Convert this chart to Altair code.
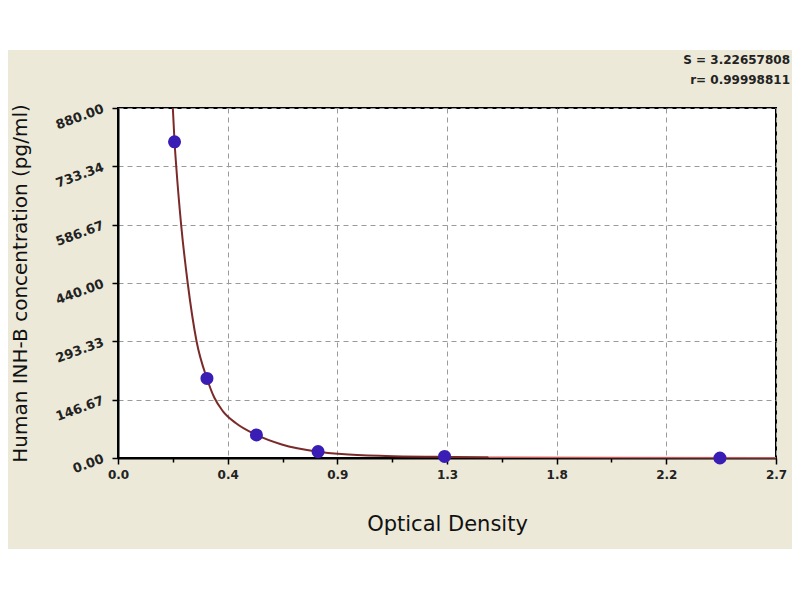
import altair as alt
import pandas as pd

# ---- data ----
point_od = [0.232, 0.365, 0.568, 0.821, 1.34, 2.47]
point_conc = [795, 200, 58, 16, 4, 0]

curve_od = [0.225, 0.232, 0.239, 0.259, 0.286, 0.3225, 0.365, 0.395, 0.43, 0.483,
            0.568, 0.672, 0.821, 0.917, 1.10, 1.30, 1.52]
curve_conc = [880, 795, 733, 587, 440, 293, 200, 152, 118, 88,
              58, 34, 16, 10, 5, 3, 2]

tail_od = [1.52, 2.0, 2.7]
tail_conc = [2, 1, 0.5]

x_major = [0.0, 0.45, 0.9, 1.35, 1.8, 2.25, 2.7]
x_labels = ["0.0", "0.4", "0.9", "1.3", "1.8", "2.2", "2.7"]
y_major = [0.0, 146.67, 293.33, 440.0, 586.67, 733.34, 880.0]
y_labels = ["0.00", "146.67", "293.33", "440.00", "586.67", "733.34", "880.00"]

stat_lines = ["S = 3.22657808", "r= 0.99998811"]

W, H = 658, 350
BEIGE = "#ECE9D8"


def subdivide(majors, n=4):
    out = []
    for a, b in zip(majors[:-1], majors[1:]):
        for k in range(n):
            out.append(round(a + (b - a) * k / n, 6))
    out.append(majors[-1])
    return out


def label_expr(values, labels, tol):
    expr = "''"
    for v, l in reversed(list(zip(values, labels))):
        expr = f"abs(datum.value - {v}) < {tol} ? '{l}' : ({expr})"
    return expr


x_test = "abs(datum.value/0.45 - round(datum.value/0.45)) < 0.01"
y_test = "abs(datum.value/146.66667 - round(datum.value/146.66667)) < 0.01"

points = pd.DataFrame({"od": point_od, "conc": point_conc})
curve = pd.DataFrame({"od": curve_od, "conc": curve_conc})
tail = pd.DataFrame({"od": tail_od, "conc": tail_conc})
one = pd.DataFrame({"a": [0]})

x_scale = alt.Scale(domain=[0, 2.7], nice=False, zero=False)
y_scale = alt.Scale(domain=[0, 880], nice=False)

x_axis = alt.Axis(
    values=subdivide(x_major),
    labelExpr=label_expr(x_major, x_labels, 0.001),
    title="Optical Density",
    titleFontSize=21, titleFontWeight="normal", titleColor="#111",
    titleY=72, titleBaseline="alphabetic",
    labelFontSize=12, labelFontWeight="bold", labelColor="#222",
    labelPadding=5, labelFlush=False, labelOverlap=False,
    tickColor="black", tickWidth=1.5,
    tickSize={"condition": {"test": x_test, "value": 6}, "value": 4},
    domainColor="black", domainWidth=2,
    grid=True, gridColor="#9a9a9a", gridDash=[5, 4], gridWidth=1,
    gridOpacity={"condition": {"test": x_test, "value": 1}, "value": 0},
)

y_axis = alt.Axis(
    values=subdivide(y_major),
    labelExpr=label_expr(y_major, y_labels, 0.05),
    title="Human INH-B concentration (pg/ml)",
    titleFontSize=20, titleFontWeight="normal", titleColor="#111",
    titleAngle=270, titleX=-92, titleY=H / 2, titleAlign="center",
    titleBaseline="alphabetic",
    labelFontSize=13, labelFontWeight="bold", labelColor="#222",
    labelAngle=340, labelAlign="right", labelBaseline="middle",
    labelPadding=9, labelOverlap=False,
    tickColor="black", tickWidth=1.5,
    tickSize={"condition": {"test": y_test, "value": 6}, "value": 4},
    domainColor="black", domainWidth=2,
    grid=True, gridColor="#9a9a9a", gridDash=[5, 4], gridWidth=1,
    gridOpacity={"condition": {"test": y_test, "value": 1}, "value": 0},
)

top_band = alt.Chart(one).mark_rect(color="white").encode(
    x=alt.value(-110), x2=alt.value(W + 16), y=alt.value(-100), y2=alt.value(-58)
)
bottom_band = alt.Chart(one).mark_rect(color="white").encode(
    x=alt.value(-110), x2=alt.value(W + 16), y=alt.value(441), y2=alt.value(H + 134)
)

curve_line = alt.Chart(curve).mark_line(
    color="#7B2A2A", strokeWidth=2, interpolate="monotone"
).encode(
    x=alt.X("od:Q", scale=x_scale, axis=x_axis),
    y=alt.Y("conc:Q", scale=y_scale, axis=y_axis),
)

tail_line = alt.Chart(tail).mark_line(
    color="#C85A5A", strokeWidth=1.5
).encode(x=alt.X("od:Q", scale=x_scale), y=alt.Y("conc:Q", scale=y_scale))

dots = alt.Chart(points).mark_circle(
    color="#3A1DB5", size=170, opacity=1
).encode(x=alt.X("od:Q", scale=x_scale), y=alt.Y("conc:Q", scale=y_scale))

stat_layers = []
for i, line in enumerate(stat_lines):
    stat_layers.append(
        alt.Chart(pd.DataFrame({"txt": [line]})).mark_text(
            align="right", baseline="middle", fontSize=12, fontWeight="bold",
            color="#222"
        ).encode(x=alt.value(W + 14), y=alt.value(-48 + 20 * i), text="txt:N")
    )

chart = alt.layer(
    top_band, bottom_band, curve_line, tail_line, dots, *stat_layers
).properties(
    width=W, height=H,
    background=BEIGE,
    padding={"left": 110, "top": 100, "right": 16, "bottom": 134},
    autosize=alt.AutoSizeParams(type="none"),
).configure(font="DejaVu Sans").configure_view(
    fill="white", stroke="black", strokeWidth=2
)

chart.save("out.html", embed_options={"renderer": "svg", "actions": False})
